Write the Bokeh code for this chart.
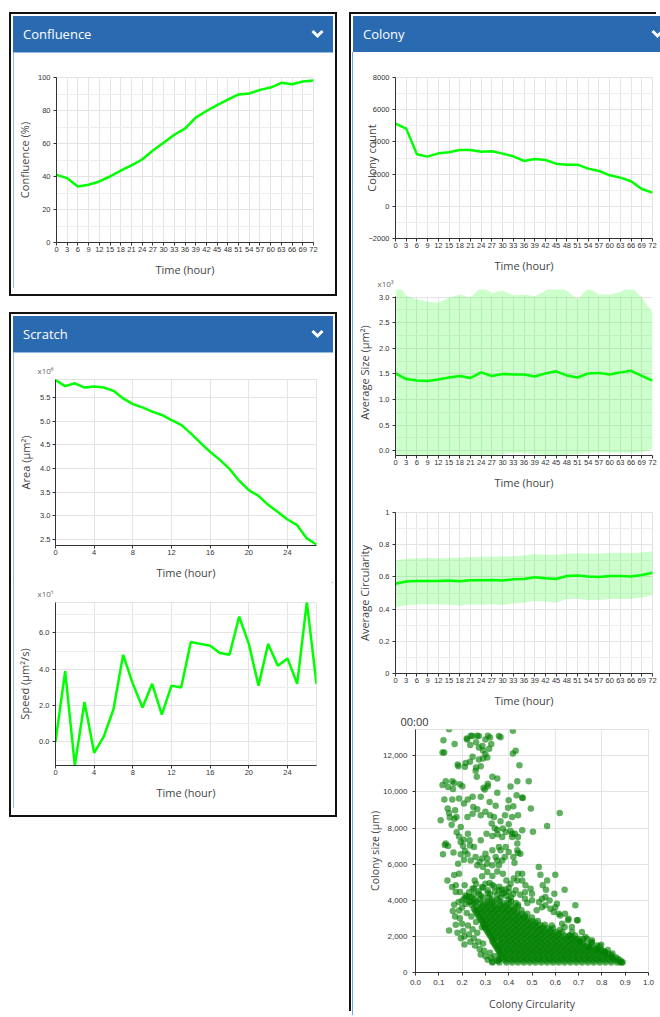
from bokeh.plotting import figure
from bokeh.layouts import row, column
from bokeh.models import (Div, Spacer, Range1d, SingleIntervalTicker,
                          CustomJSTickFormatter, NumeralTickFormatter)
from bokeh.embed import file_html
from bokeh.resources import INLINE

# ---------------- data ----------------
hours = [0, 3, 6, 9, 12, 15, 18, 21, 24, 27, 30, 33, 36, 39, 42, 45, 48, 51, 54, 57, 60, 63, 66, 69, 72]
confluence = [41, 39, 34, 35, 37, 40, 43.6, 46.7, 50.3, 55.8, 60.4, 65.3, 69, 75.7, 79.7, 83.2, 86.6,
              89.7, 90.3, 92.5, 93.9, 96.8, 95.9, 97.6, 98.2]

scratch_hours = [0, 1, 2, 3, 4, 5, 6, 7, 8, 9, 10, 11, 12, 13, 14, 15, 16, 17, 18, 19, 20, 21, 22, 23, 24, 25, 26, 27]
scratch_area = [5870000, 5740000, 5800000, 5710000, 5730000, 5710000, 5640000, 5480000, 5360000, 5290000,
                5200000, 5130000, 5020000, 4920000, 4740000, 4540000, 4350000, 4180000, 3990000, 3740000,
                3540000, 3420000, 3230000, 3080000, 2920000, 2800000, 2520000, 2390000]
scratch_speed = [0, 39, -13, 22, -6, 3, 18, 48, 32, 19, 32, 15, 31, 30, 55, 54, 53, 49, 48, 69, 54, 31,
                 54, 42, 46, 32, 77, 32]

colony_count = [5135, 4824, 3230, 3085, 3290, 3354, 3500, 3500, 3395, 3416, 3271, 3105, 2816, 2940, 2878,
                2650, 2588, 2588, 2340, 2195, 1925, 1780, 1553, 1077, 849]

size_mean = [1510, 1400, 1370, 1360, 1390, 1430, 1460, 1420, 1530, 1460, 1500, 1490, 1490, 1450, 1510,
             1550, 1470, 1430, 1510, 1520, 1490, 1530, 1560, 1460, 1370]
size_upper = [3320, 3030, 2960, 2910, 2890, 2990, 3050, 2990, 3200, 3080, 3130, 3040, 3050, 3020, 3120,
              3290, 3120, 2960, 3180, 3050, 3050, 3100, 3220, 2990, 2700]
size_lower = [-220, -200, -180, -160, -130, -120, -110, -100, -100, -90, -70, -40, -50, -70, -80, -120,
              -80, -70, -50, -30, -40, -40, -50, -30, 30]

circ_mean = [0.558, 0.571, 0.575, 0.575, 0.575, 0.577, 0.573, 0.579, 0.579, 0.581, 0.577, 0.585, 0.587,
             0.598, 0.591, 0.587, 0.606, 0.608, 0.602, 0.600, 0.606, 0.606, 0.602, 0.612, 0.626]
circ_upper = [0.702, 0.712, 0.716, 0.719, 0.716, 0.718, 0.720, 0.723, 0.725, 0.726, 0.726, 0.729, 0.733,
              0.743, 0.738, 0.737, 0.744, 0.747, 0.746, 0.745, 0.750, 0.750, 0.748, 0.752, 0.760]
circ_lower = [0.410, 0.425, 0.429, 0.430, 0.428, 0.428, 0.423, 0.430, 0.427, 0.430, 0.426, 0.435, 0.440,
              0.450, 0.447, 0.440, 0.462, 0.463, 0.456, 0.457, 0.462, 0.463, 0.462, 0.472, 0.487]

# scattered colonies (circularity, size)
sparse_circ = [.144, .12, .168, .116, .123, .22, .222, .237, .244, .265, .272, .311, .32, .358, .365, .235,
               .26, .272, .287, .29, .30, .325, .30, .316, .418, .418, .43, .446, .486, .619, .565, .504,
               .495, .458, .46, .437, .408, .397, .42, .40, .434, .40, .458, .437, .44, .45, .437, .415,
               .372, .358, .352, .365, .34, .327, .32, .30, .28, .265, .248, .245, .223, .208, .224, .245,
               .28, .318, .344, .351, .351, .33, .31, .292, .297, .31, .258, .26, .28, .245, .234, .272,
               .29, .308, .263, .212, .215, .181, .184, .158, .166, .13, .116, .14, .161, .191, .201, .138,
               .144, .108, .124, .158, .187, .17, .147, .176, .167, .155, .194, .177, .187, .207, .194,
               .204, .13, .126, .14, .118, .163, .194, .223, .213, .234, .225, .232, .251, .258, .237, .208,
               .183, .187, .166, .137, .173, .157, .173, .191, .211, .215, .201, .23, .265, .275, .29, .308,
               .33, .318, .351, .358, .375, .39, .408, .422, .437, .44, .458, .286, .30, .337, .358, .372,
               .386, .40, .286, .272, .251, .254, .494, .529, .536, .565, .546, .60, .56, .596, .543, .50,
               .64, .472, .458, .30, .308, .33, .344, .365, .383, .40, .42, .425, .387, .372, .351, .33,
               .308, .286, .28, .305, .33, .351, .387, .408, .427, .44, .375, .384, .415, .337, .44, .415,
               .144, .173, .166, .187, .19, .20, .205, .21, .215, .22, .225, .23, .235, .24, .245, .25,
               .255, .26, .265, .27, .275, .28, .285, .29, .295, .30, .31, .32, .325, .33, .34, .35, .36,
               .17, .18, .195, .21, .20, .23, .21, .185, .16,
               .5575, .593, .621, .642, .657, .686, .693, .629, .671, .714, .736, .757, .779, .80, .814,
               .843, .889, .557, .579, .607, .53, .50, .47, .655, .696, .64, .672, .70, .729, .757, .797,
               .779, .829, .879, .575, .60, .543, .615,
               .25, .28, .32, .35, .38, .42, .45, .27, .31, .34, .37, .40, .23, .29, .33, .36, .26, .43,
               .47, .31, .39, .22, .245, .62, .585, .66, .705, .745, .52, .48]
sparse_size = [13480, 12870, 12650, 12190, 12190, 12960, 12900, 13110, 13100, 13110, 13100, 13110, 13020,
               13100, 13030, 12600, 12750, 12460, 12550, 12300, 12090, 12650, 12900, 12400, 13390, 12130,
               12280, 11480, 10600, 8840, 8120, 7800, 9080, 9690, 9670, 10600, 10300, 9120, 9210, 9540,
               9820, 8210, 7880, 6770, 6620, 6580, 7140, 7510, 7510, 6950, 7660, 8380, 7990, 8250, 8710,
               8910, 8710, 9040, 9170, 8800, 8620, 9360, 9580, 9730, 9730, 9450, 9230, 9950, 10740, 10840,
               10320, 10240, 10130, 10460, 11170, 11350, 11430, 11950, 11670, 11800, 11850, 11910, 10840,
               11390, 11610, 11520, 11430, 10600, 10500, 10600, 10390, 10280, 10170, 10430, 10320, 9080,
               8840, 8430, 9580, 9580, 9640, 8990, 8580, 8620, 8520, 8190, 8060, 7770, 7540, 7360, 7230,
               7010, 7140, 7060, 7010, 6550, 6640, 6550, 6550, 6730, 7040, 7690, 7320, 6950, 6400, 6210,
               6250, 6030, 5470, 5400, 5100, 4830, 4730, 4460, 4460, 4830, 4270, 3990, 4180, 5940, 6120,
               5840, 5570, 5340, 4960, 5600, 5940, 5470, 5100, 4920, 5200, 5100, 5470, 5470, 5330, 4920,
               4770, 4550, 4360, 4600, 4460, 4730, 4360, 4640, 5100, 4640, 5840, 5420, 5100, 4830, 5420,
               4590, 4360, 4090, 4360, 4590, 4830, 5100, 6580, 6310, 6770, 6400, 6770, 6400, 6680, 6400,
               6080, 6950, 6210, 6210, 5940, 6030, 6310, 7320, 7690, 7560, 7910, 7780, 7840, 7690, 7510,
               7970, 8710, 8620, 8620, 8710, 7690,
               2330, 2640, 3750, 3440, 3000, 2700, 2300, 2000, 3800, 3300, 2600, 2100, 1700, 3100, 2400,
               1900, 1500, 2800, 2200, 1700, 1300, 1000, 2500, 1600, 1200, 900, 700, 1100, 800, 600, 900,
               650, 750, 3100, 2200, 1900, 1550, 3600, 3900, 4100, 3900, 3400,
               4180, 3350, 3160, 3250, 2980, 3720, 2890, 2700, 2520, 2240, 1870, 1680, 1500, 1220, 1130,
               850, 570, 3720, 3530, 3810, 3900, 4000, 4090, 2890, 2890, 2520, 2240, 1870, 1960, 1780, 1540,
               1260, 1040, 570, 3990, 3620, 3620, 3250,
               4300, 4250, 4320, 4280, 4400, 4350, 4300, 4500, 4550, 4480, 4600, 4700, 4450, 4700, 4850,
               4750, 4900, 4550, 4450, 4400, 4250, 4200, 4650, 2350, 2600, 2050, 1700, 1400, 3450, 3850]

# dense cluster, row by row: (size, circularities)
dense_rows = [
    (560, [.33, .36, .39, .415, .44, .465, .49, .515, .54, .565, .59, .615, .64, .665, .69, .715, .74, .765, .79, .815, .84, .865, .885]),
    (660, [.355, .3875, .4125, .4375, .4625, .4875, .5125, .5375, .5625, .5875, .6125, .6375, .6625, .6875, .7125, .7375, .7625, .7875, .8125, .8375, .8625, .88]),
    (750, [.375, .40, .425, .45, .475, .50, .525, .55, .575, .60, .625, .65, .675, .70, .725, .75, .775, .80, .825, .85, .87]),
    (850, [.37, .3875, .4125, .4375, .4625, .4875, .5125, .5375, .5625, .5875, .6125, .6375, .6625, .6875, .7125, .7375, .7625, .7875, .8125, .8375, .86]),
    (950, [.365, .39, .415, .44, .465, .49, .515, .54, .565, .59, .615, .64, .665, .69, .715, .74, .765, .79, .815, .84]),
    (1050, [.3625, .3875, .4125, .4375, .4625, .4875, .5125, .5375, .5625, .5875, .6125, .6375, .6625, .6875, .7125, .7375, .7625, .7875, .8125, .845]),
    (1150, [.36, .385, .41, .435, .46, .485, .51, .535, .56, .585, .61, .635, .66, .685, .71, .735, .76, .785, .81]),
    (1250, [.355, .3725, .3975, .4225, .4475, .4725, .4975, .5225, .5475, .5725, .5975, .6225, .6475, .6725, .6975, .7225, .7475, .7725, .7975, .825]),
    (1350, [.35, .375, .40, .425, .45, .475, .50, .525, .55, .575, .60, .625, .65, .675, .70, .725, .75, .775]),
    (1450, [.345, .3525, .3775, .4025, .4275, .4525, .4775, .5025, .5275, .5525, .5775, .6025, .6275, .6525, .6775, .7025, .7275, .7525, .79]),
    (1550, [.34, .365, .39, .415, .44, .465, .49, .515, .54, .565, .59, .615, .64, .665, .69, .715, .74]),
    (1650, [.335, .3675, .3925, .4175, .4425, .4675, .4925, .5175, .5425, .5675, .5925, .6175, .6425, .6675, .6925, .7175, .755]),
    (1750, [.33, .355, .38, .405, .43, .455, .48, .505, .53, .555, .58, .605, .63, .655, .68, .705]),
    (1850, [.33, .3425, .3675, .3925, .4175, .4425, .4675, .4925, .5175, .5425, .5675, .5925, .6175, .6425, .6675, .69, .72]),
    (1950, [.325, .35, .375, .40, .425, .45, .475, .50, .525, .55, .575, .60, .625, .65, .675]),
    (2050, [.32, .3375, .3625, .3875, .4125, .4375, .4625, .4875, .5125, .5375, .5625, .5875, .6125, .6375, .6625, .685]),
    (2150, [.315, .34, .365, .39, .415, .44, .465, .49, .515, .54, .565, .59, .615]),
    (2250, [.31, .3275, .3525, .3775, .4025, .4275, .4525, .4775, .5025, .5275, .5525, .5775, .6025, .63]),
    (2350, [.305, .33, .355, .38, .405, .43, .455, .48, .505, .53, .555, .58]),
    (2450, [.30, .3175, .3425, .3675, .3925, .4175, .4425, .4675, .4925, .5175, .5425, .5675, .59]),
    (2550, [.295, .32, .345, .37, .395, .42, .445, .47, .495, .52, .545]),
    (2650, [.2925, .3075, .3325, .3575, .3825, .4075, .4325, .4575, .4825, .5075, .5325, .555]),
    (2750, [.29, .315, .34, .365, .39, .415, .44, .465, .49, .515]),
    (2850, [.285, .3025, .3275, .3525, .3775, .4025, .4275, .4525, .4775, .5025, .525]),
    (2950, [.28, .305, .33, .355, .38, .405, .43, .455, .48]),
    (3050, [.275, .2925, .3175, .3425, .3675, .3925, .4175, .4425, .4675, .50]),
    (3150, [.27, .295, .32, .345, .37, .395, .42, .445, .47]),
    (3250, [.265, .2825, .3075, .3325, .3575, .3825, .4075, .4325, .4575, .48]),
    (3350, [.26, .285, .31, .335, .36, .385, .41, .435]),
    (3450, [.255, .2725, .2975, .3225, .3475, .3725, .3975, .4225, .455]),
    (3550, [.25, .275, .30, .325, .35, .375, .40, .425]),
    (3650, [.2625, .2875, .3125, .3375, .3625, .3875, .4125, .44]),
    (3750, [.24, .29, .315, .34, .365, .39, .44]),
    (3850, [.2525, .2775, .3025, .3275, .3775, .4025, .43]),
    (3950, [.235, .26, .31, .335, .36, .41]),
    (4050, [.2525, .2775, .3275, .3525, .40]),
    (4150, [.24, .29, .315, .365, .41]),
]

scatter_circ = list(sparse_circ)
scatter_size = list(sparse_size)
for s, cs in dense_rows:
    for c in cs:
        scatter_circ.append(c)
        scatter_size.append(s)

# ---------------- styling helpers ----------------
LINE = "#00ff00"
BLUE = "#2a6ab1"
PANEL_EDGE = "#6aa6de"
TICK_FONT = "Liberation Sans"
LABEL_FONT = "Open Sans"


def make_fig(w, h, xr, yr, left, right, top, bottom):
    p = figure(width=w, height=h, x_range=xr, y_range=yr, output_backend="svg",
               toolbar_location=None, min_border_left=left, min_border_right=right,
               min_border_top=top, min_border_bottom=bottom, margin=0)
    p.frame_align = False
    p.background_fill_color = "#ffffff"
    p.border_fill_color = "#ffffff"
    p.outline_line_color = "#e2e2e2"
    for ax in p.axis:
        ax.axis_line_color = "#333333"
        ax.major_tick_line_color = "#333333"
        ax.minor_tick_line_color = None
        ax.major_tick_in = 0
        ax.major_tick_out = 3
        ax.major_label_standoff = 2
        ax.major_label_text_font = TICK_FONT
        ax.major_label_text_font_size = "7.5px"
        ax.major_label_text_color = "#333333"
        ax.axis_label_text_font = LABEL_FONT
        ax.axis_label_text_font_size = "11px"
        ax.axis_label_text_font_style = "normal"
        ax.axis_label_text_color = "#444444"
    p.xaxis.major_label_standoff = 1
    p.xaxis.axis_label_standoff = 7
    p.grid.grid_line_color = "#e4e4e4"
    p.ygrid.minor_grid_line_color = "#eeeeee"
    return p


def set_note(p, text, offset, standoff, size="8px", color="#666666"):
    p.title.text = text
    p.title.align = "left"
    p.title.offset = offset
    p.title.standoff = standoff
    p.title.text_font = LABEL_FONT
    p.title.text_font_size = size
    p.title.text_font_style = "normal"
    p.title.text_color = color


def header(text, w):
    html = (
        f'<div style="position:relative;overflow:hidden;width:{w}px;height:36px;background:{BLUE};'
        f'color:#ffffff;font-family:\'Open Sans\';font-size:13px;line-height:36px;">'
        f'<span style="position:absolute;left:10px;top:0;">{text}</span>'
        f'<svg style="position:absolute;left:298px;top:13px;" width="13" height="10">'
        f'<polyline points="1.5,2 6.5,7 11.5,2" fill="none" stroke="#ffffff" stroke-width="3"/></svg></div>'
    )
    return Div(text=html, width=w, height=36, margin=0)


def time_ticks(p, interval):
    p.xaxis.ticker = SingleIntervalTicker(interval=interval, num_minor_ticks=0)
    p.xgrid.ticker = SingleIntervalTicker(interval=interval, num_minor_ticks=0)


# ---------------- Confluence ----------------
LW = 320
p_conf = make_fig(LW, 236, Range1d(0, 72), Range1d(0, 100), 42, 20, 25, 46)
time_ticks(p_conf, 3)
p_conf.yaxis.ticker = SingleIntervalTicker(interval=20, num_minor_ticks=2)
p_conf.xaxis.axis_label = "Time (hour)"
p_conf.yaxis.axis_label = "Confluence (%)"
p_conf.yaxis.axis_label_standoff = 3
p_conf.line(hours, confluence, line_color=LINE, line_width=2.5)
p_conf.styles = {"outline": f"1px solid {PANEL_EDGE}", "outline-offset": "-1px"}

# ---------------- Scratch: area ----------------
p_area = make_fig(LW, 230, Range1d(0, 27), Range1d(2370000, 5880000), 42, 17, 27, 37)
time_ticks(p_area, 4)
p_area.yaxis.ticker = SingleIntervalTicker(interval=500000, num_minor_ticks=0)
p_area.yaxis.formatter = CustomJSTickFormatter(code="return (tick/1e6).toFixed(1);")
p_area.xaxis.axis_label = "Time (hour)"
p_area.yaxis.axis_label = "Area (μm²)"
p_area.yaxis.axis_label_standoff = 4
set_note(p_area, "x10⁶", -18, 7)
p_area.line(scratch_hours, scratch_area, line_color=LINE, line_width=2.5)

# ---------------- Scratch: speed ----------------
p_speed = make_fig(LW, 226, Range1d(0, 27), Range1d(-13, 76.8), 42, 17, 18, 43)
time_ticks(p_speed, 4)
p_speed.yaxis.ticker = SingleIntervalTicker(interval=20, num_minor_ticks=2)
p_speed.yaxis.formatter = CustomJSTickFormatter(code="return (tick/10).toFixed(1);")
p_speed.xaxis.axis_label = "Time (hour)"
p_speed.yaxis.axis_label = "Speed (μm²/s)"
p_speed.yaxis.axis_label_standoff = 4
set_note(p_speed, "x10¹", -18, 7)
p_speed.line(scratch_hours, scratch_speed, line_color=LINE, line_width=2.5)

scratch_body = column(p_area, p_speed, margin=0,
                      styles={"outline": f"1px solid {PANEL_EDGE}", "outline-offset": "-1px"})

# ---------------- Colony ----------------
RW = 307
p_count = make_fig(RW, 223, Range1d(0, 72), Range1d(-2000, 8000), 42, 8, 25, 37)
time_ticks(p_count, 3)
p_count.yaxis.ticker = SingleIntervalTicker(interval=2000, num_minor_ticks=2)
p_count.xaxis.axis_label = "Time (hour)"
p_count.yaxis.axis_label = "Colony count"
p_count.yaxis.axis_label_standoff = -14
p_count.line(hours, colony_count, line_color=LINE, line_width=2.5)

# average size: the spread band runs a little past the top of the axis, as in the source
SIZE_AXIS = (-95, 3010)
p_size = make_fig(RW, 217, Range1d(0, 72), Range1d(-95, 3150), 42, 8, 11, 35)
time_ticks(p_size, 3)
p_size.outline_line_color = None
p_size.yaxis.ticker = SingleIntervalTicker(interval=500, num_minor_ticks=2)
p_size.yaxis.bounds = SIZE_AXIS
p_size.ygrid.bounds = SIZE_AXIS
p_size.xgrid.cross_bounds = SIZE_AXIS
p_size.yaxis.formatter = CustomJSTickFormatter(code="return (tick/1000).toFixed(1);")
p_size.xaxis.axis_label = "Time (hour)"
p_size.yaxis.axis_label = "Average Size (μm²)"
p_size.yaxis.axis_label_standoff = 4
set_note(p_size, "x10³", -18, 1)
p_size.varea(x=hours, y1=size_lower, y2=size_upper, fill_color=LINE, fill_alpha=0.2)
p_size.line(hours, size_mean, line_color=LINE, line_width=2.5)

p_circ = make_fig(RW, 218, Range1d(0, 72), Range1d(0, 1), 42, 8, 20, 36)
time_ticks(p_circ, 3)
p_circ.yaxis.ticker = SingleIntervalTicker(interval=0.2, num_minor_ticks=2)
p_circ.yaxis.formatter = NumeralTickFormatter(format="0.[0]")
p_circ.xaxis.axis_label = "Time (hour)"
p_circ.yaxis.axis_label = "Average Circularity"
p_circ.yaxis.axis_label_standoff = 4
p_circ.varea(x=hours, y1=circ_lower, y2=circ_upper, fill_color=LINE, fill_alpha=0.2)
p_circ.line(hours, circ_mean, line_color=LINE, line_width=2.5)

p_sc = make_fig(RW, 305, Range1d(0, 1), Range1d(0, 13460), 62, 12, 19, 43)
p_sc.xaxis.ticker = SingleIntervalTicker(interval=0.1, num_minor_ticks=0)
p_sc.xgrid.ticker = SingleIntervalTicker(interval=0.2, num_minor_ticks=0)
p_sc.yaxis.ticker = SingleIntervalTicker(interval=2000, num_minor_ticks=0)
p_sc.xaxis.formatter = NumeralTickFormatter(format="0.0")
p_sc.yaxis.formatter = NumeralTickFormatter(format="0,0")
p_sc.xaxis.major_label_text_font_size = "8px"
p_sc.yaxis.major_label_text_font_size = "8px"
p_sc.yaxis.major_label_standoff = 5
p_sc.xaxis.major_label_standoff = 4
p_sc.xaxis.axis_label = "Colony Circularity"
p_sc.yaxis.axis_label = "Colony size (μm)"
p_sc.xaxis.axis_label_text_font_size = "10.5px"
p_sc.yaxis.axis_label_text_font_size = "10.5px"
p_sc.yaxis.axis_label_standoff = -2
p_sc.xaxis.axis_label_standoff = 9
set_note(p_sc, "00:00", -15, 2, size="11px", color="#333333")
p_sc.scatter(scatter_circ, scatter_size, size=6.5, fill_color="#008000", fill_alpha=0.62,
             line_color=None)

# ---------------- layout ----------------
RING = {"box-shadow": "0 0 0 2px #ffffff, 0 0 0 4px #111111", "background": "#ffffff"}

conf_panel = column(header("Confluence", LW), p_conf, Spacer(width=LW, height=4, margin=0),
                    margin=0, styles=RING)
scratch_panel = column(header("Scratch", LW), scratch_body, Spacer(width=LW, height=5, margin=0),
                       margin=0, styles=RING)
left_col = column(conf_panel, scratch_panel, spacing=24, margin=0)

colony_body = column(p_count, p_size, p_circ, p_sc, margin=0,
                     styles={"box-shadow": f"-1px 0 0 0 {PANEL_EDGE}"})
right_panel = column(header("Colony", RW), colony_body, margin=0,
                     styles={"box-shadow": "-2px -2px 0 0 #ffffff, -4px -4px 0 0 #111111",
                             "background": "#ffffff"})

root = row(left_col, right_panel, spacing=20, margin=(16, 0, 0, 13))

open("out.html", "w").write(file_html(root, INLINE))
